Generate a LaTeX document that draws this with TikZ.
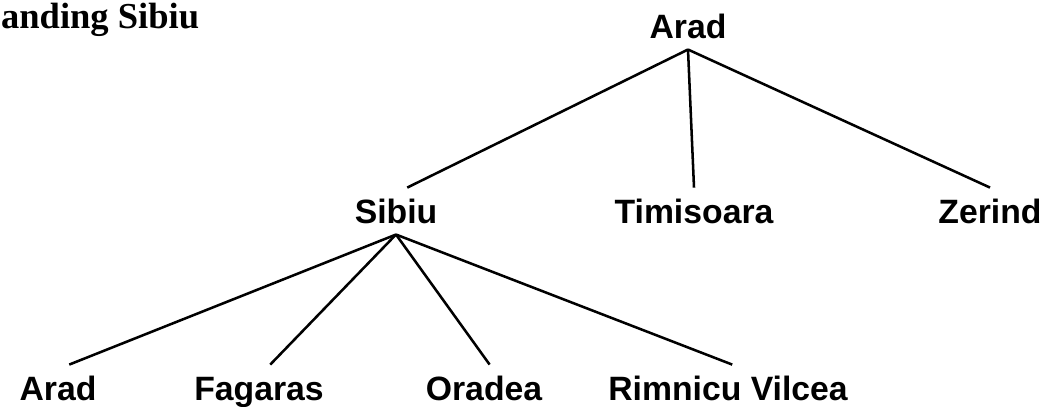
\documentclass[tikz,border=0pt]{standalone}
\usepackage{fontspec}
\setmainfont{Liberation Serif}
\setsansfont{Liberation Sans}
\usetikzlibrary{positioning}

\tikzset{city/.style={font=\sffamily\bfseries\fontsize{24}{28}\selectfont, inner xsep=0pt, inner ysep=8pt, text height=17pt, text depth=0pt, anchor=base}}

\begin{document}
\begin{tikzpicture}
		\useasboundingbox (0,0) rectangle (26.325,-10.15);
		\node[anchor=base west, inner sep=0pt, font=\rmfamily\bfseries\fontsize{26}{30}\selectfont] (title) at (0.02,-0.72) {anding Sibiu};

		\draw (17.2,-0.95)    node[city] (r1) {Arad}
		(9.9cm,-5.575cm)      node[city] (s1) {Sibiu}
		(17.35cm,-5.575cm)    node[city] (s2) {Timisoara}
		(24.75cm,-5.575cm)    node[city] (s3) {Zerind}
		(1.45cm,-10.0cm)      node[city] (c1) {Arad}
		(6.475cm,-10.0cm)     node[city] (c2) {Fagaras}
		(12.1cm,-10.0cm)      node[city] (c3) {Oradea}
		(18.2cm,-10.0cm)      node[city] (c4) {Rimnicu Vilcea};

		\draw[line width=1.8pt] (r1.south) -- ([xshift=8pt]s1.north);
		\draw[line width=1.8pt] (r1.south) -- (s2.north);
		\draw[line width=1.8pt] (r1.south) -- (s3.north);
		\draw[line width=1.8pt] (s1.south) -- ([xshift=8pt]c1.north);
		\draw[line width=1.8pt] (s1.south) -- ([xshift=8pt]c2.north);
		\draw[line width=1.8pt] (s1.south) -- ([xshift=4pt]c3.north);
		\draw[line width=1.8pt] (s1.south) -- ([xshift=3pt]c4.north);
	\end{tikzpicture}
\end{document}
